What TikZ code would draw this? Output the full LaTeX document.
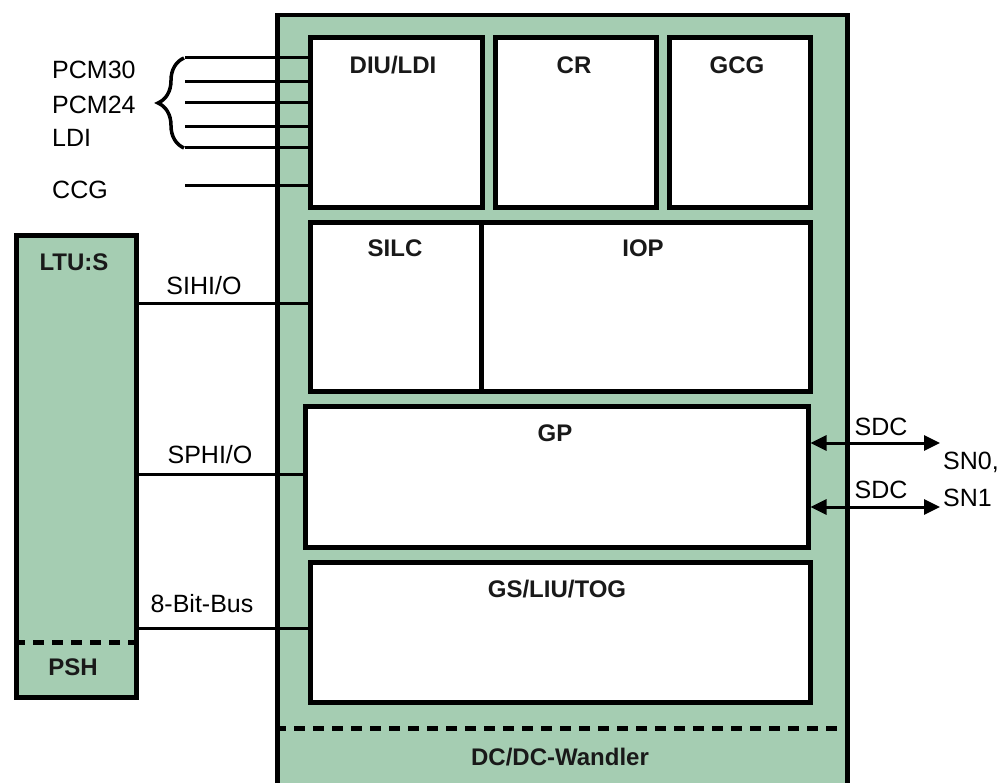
\documentclass[tikz,border=0pt]{standalone}
\usepackage{fontspec}
\setmainfont{Liberation Sans}
\usetikzlibrary{arrows.meta,decorations.pathreplacing}
\definecolor{boxgreen}{HTML}{A5CDB2}
\begin{document}
\begin{tikzpicture}[x=1pt,y=-1pt,
  font=\fontsize{25}{29}\selectfont,
  frame/.style={draw, line width=4.5pt, fill=boxgreen, anchor=north west, inner sep=0pt},
  box/.style={draw, line width=5pt, fill=white, anchor=north west, inner sep=0pt},
  lbl/.style={inner sep=0pt, anchor=center},
  blbl/.style={inner sep=0pt, anchor=center, font=\fontsize{24}{28}\selectfont\bfseries, text=black!90},
  sig/.style={line width=3pt},
  dsh/.style={line width=5pt, dash pattern=on 11pt off 8pt},
  biarrow/.style={line width=3pt, {Triangle[length=16pt,width=15pt]}-{Triangle[length=16pt,width=15pt]}},
]
\useasboundingbox (0,0) rectangle (1008,783);
\clip (0,0) rectangle (1008,783);

% outer frame
\node[frame, minimum width=570pt, minimum height=820pt] (ccu) at (275,13) {};
% LTU:S
\node[frame, line width=5pt, minimum width=120pt, minimum height=462pt] (ltu) at (14,233) {};

% inner boxes
\node[box, minimum width=172pt, minimum height=170pt] (diu) at (307.5,35.5) {};
\node[box, minimum width=161.5pt, minimum height=170pt] (cr) at (492.5,35.5) {};
\node[box, minimum width=140.5pt, minimum height=170pt] (gcg) at (667,35.5) {};
\node[box, minimum width=171.5pt, minimum height=169pt] (silc) at (307.5,220) {};
\node[box, minimum width=328.5pt, minimum height=169pt] (iop) at (479,220) {};
\node[box, minimum width=503pt, minimum height=141pt] (gp) at (302.5,404) {};
\node[box, minimum width=500pt, minimum height=140pt] (gs) at (307.5,560) {};

% box labels
\node[blbl] (tdiu) at (393,65) {DIU/LDI};
\node[blbl] (tcr) at (574,65) {CR};
\node[blbl] (tgcg) at (737,65) {GCG};
\node[blbl] (tsilc) at (395,248) {SILC};
\node[blbl] (tiop) at (643,248) {IOP};
\node[blbl] (tgp) at (555,433) {GP};
\node[blbl] (tgs) at (557,589) {GS/LIU/TOG};
\node[blbl] (tltu) at (74,262) {LTU:S};
\node[blbl] (tpsh) at (73,667) {PSH};
\node[blbl] (tdc) at (560,757) {DC/DC-Wandler};

% dashed separators
\coordinate (dcl) at (275,728);
\coordinate (dcr) at (845,728);
\draw[dsh] (dcl) -- (dcr);
\coordinate (pshl) at (14,642);
\coordinate (pshr) at (134,642);
\draw[dsh] (pshl) -- (pshr);

% left signal lines
\foreach \n/\y in {s1/58, s2/82, s3/103, s4/127, s5/148, s6/186} {
  \coordinate (\n) at (185,\y);
  \draw[sig] (\n) -- (\n -| diu.west);
}
\draw[decorate, decoration={brace, amplitude=26pt}, line width=3.5pt] (184,148) -- (184,58);

\node[lbl, anchor=west] (pcm30) at (52,70) {PCM30};
\node[lbl, anchor=west] (pcm24) at (52,105) {PCM24};
\node[lbl, anchor=west] (ldi) at (52,138) {LDI};
\node[lbl, anchor=west] (ccg) at (52,190) {CCG};

% LTU connections
\coordinate (c1) at (134,303);
\draw[sig] (ltu.east |- c1) -- (c1 -| silc.west);
\node[lbl] (tsihi) at (204,286) {SIHI/O};
\coordinate (c2) at (134,474);
\draw[sig] (ltu.east |- c2) -- (c2 -| gp.west);
\node[lbl] (tsphi) at (210,455) {SPHI/O};
\coordinate (c3) at (134,628);
\draw[sig] (ltu.east |- c3) -- (c3 -| gs.west);
\node[lbl] (tbus) at (202,604) {8-Bit-Bus};

% right arrows
\coordinate (sn0) at (940,443);
\coordinate (sn1) at (940,507);
\draw[biarrow] (gp.east |- sn0) -- (sn0);
\draw[biarrow] (gp.east |- sn1) -- (sn1);
\node[lbl] (sdc1) at (881,427) {SDC};
\node[lbl] (sdc2) at (881,490) {SDC};
\node[lbl, anchor=west] (tsn0) at (943,462) {SN0,};
\node[lbl, anchor=west] (tsn1) at (943,498) {SN1};
\end{tikzpicture}
\end{document}
